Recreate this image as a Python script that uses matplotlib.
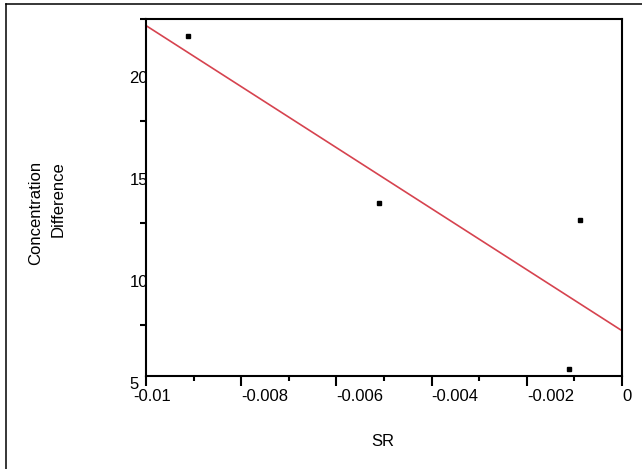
import numpy as np
import matplotlib
matplotlib.use("Agg")
import matplotlib.pyplot as plt
from matplotlib.lines import Line2D
from matplotlib.transforms import ScaledTranslation
from matplotlib.ticker import MultipleLocator

plt.rcParams['font.family'] = ['Liberation Sans', 'DejaVu Sans']

# Observations
sr = [-0.00912, -0.00511, -0.00088, -0.00111]
conc_diff = [21.67, 13.48, 12.65, 5.34]

x_ticks = [-0.01, -0.008, -0.006, -0.004, -0.002, 0.0]
x_tick_labels = ["-0.01", "-0.008", "-0.006", "-0.004", "-0.002", "0"]
y_ticks = [5, 10, 15, 20]
y_tick_labels = ["5", "10", "15", "20"]

W, H = 642, 469
DPI = 100
fig = plt.figure(figsize=(W / DPI, H / DPI), dpi=DPI)
fig.patch.set_facecolor("white")

# page frame (left and top edges)
fig.add_artist(Line2D([6 / W, 6 / W], [0, 1 - 4 / H], transform=fig.transFigure,
                      color="black", lw=1.1))
fig.add_artist(Line2D([6 / W, 1], [1 - 4 / H, 1 - 4 / H], transform=fig.transFigure,
                      color="black", lw=1.1))

left, right, top, bottom = 146, 622, 19, 376
ax = fig.add_axes([left / W, 1 - bottom / H, (right - left) / W, (bottom - top) / H])

# data points
ax.plot(sr, conc_diff, linestyle="none", marker="s", ms=2.6, color="black", zorder=3)

# least-squares fit line across the axis range
slope, intercept = np.polyfit(sr, conc_diff, 1)
xl = np.array([-0.01, 0.0])
ax.plot(xl, slope * xl + intercept, color="#d6434f", lw=1.2, zorder=2, clip_on=False)

ax.set_xlim(-0.01, 0.0)
ax.set_ylim(5, 22.5)

for s in ax.spines.values():
    s.set_linewidth(1.5)
    s.set_color("black")

ax.set_xticks(x_ticks)
ax.set_xticklabels(x_tick_labels)
ax.xaxis.set_minor_locator(MultipleLocator(0.001))
ax.set_yticks(y_ticks)
ax.set_yticklabels(y_tick_labels)
ax.yaxis.set_minor_locator(MultipleLocator(2.5))

ax.tick_params(axis="x", which="major", direction="out", length=7.5, width=1.5,
               labelsize=12, pad=2)
ax.tick_params(axis="x", which="minor", direction="out", length=3.8, width=1.5)
ax.tick_params(axis="y", which="major", direction="out", length=0, width=1.5,
               labelsize=12, pad=12)
ax.tick_params(axis="y", which="minor", direction="out", length=4, width=1.5)

for lab in ax.get_xticklabels():
    lab.set_horizontalalignment("left")
first = ax.get_xticklabels()[0]
first.set_transform(first.get_transform() + ScaledTranslation(-13 / DPI, 0, fig.dpi_scale_trans))

for lab in ax.get_yticklabels():
    lab.set_horizontalalignment("left")
    lab.set_transform(lab.get_transform() + ScaledTranslation(0, -7 / DPI, fig.dpi_scale_trans))
    lab.set_zorder(1)

fig.text(383 / W, 1 - 441 / H, "SR", ha="center", va="center", fontsize=12)
fig.text(36 / W, 1 - 161 / H, "Concentration", rotation=90, ha="center", va="top", fontsize=12)
fig.text(58 / W, 1 - 161 / H, "Difference", rotation=90, ha="center", va="top", fontsize=12)

fig.savefig("out.png", dpi=DPI, facecolor="white")
